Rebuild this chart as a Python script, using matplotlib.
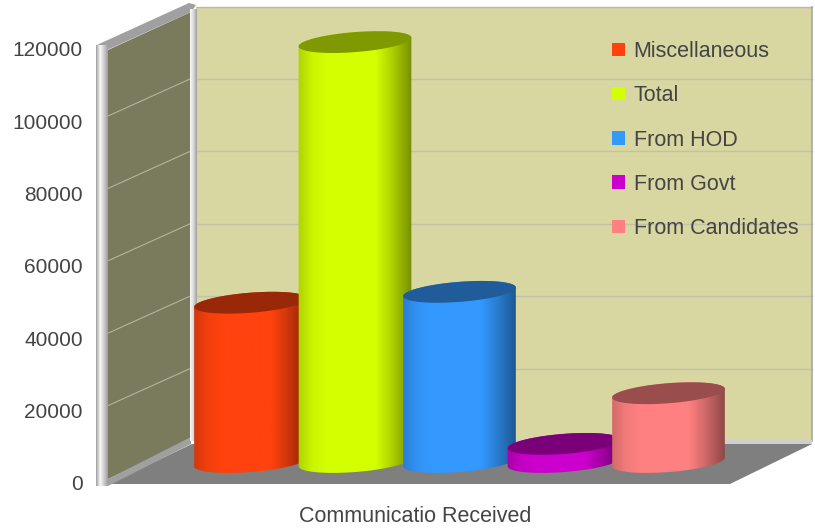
import numpy as np
import matplotlib
matplotlib.use("Agg")
import matplotlib.pyplot as plt
from matplotlib.patches import Polygon, Patch
from matplotlib.colors import to_rgb

plt.rcParams['font.family'] = ['Liberation Sans', 'DejaVu Sans']

categories = ["Miscellaneous", "Total", "From HOD", "From Govt", "From Candidates"]
values = [44000, 116000, 47000, 5000, 19000]
colors = ["#ff420e", "#d4ff00", "#3399ff", "#cc00cc", "#ff8080"]
y_ticks = [0, 20000, 40000, 60000, 80000, 100000, 120000]
x_title = "Communicatio Received"

W, H = 815, 528
# pixel scale of the plot
PX_CAT = 104.5       # px between two bars
X0 = 250.5           # px of first bar centre
Y0 = 483.0           # px of value 0 on the front edge
PX_VAL = 3.62 / 1000  # px per unit
LEFT = 90

BAR_BASE = (Y0 - 462) / PX_VAL    # bars stand mid way on the floor
BACK = (Y0 - 441) / PX_VAL        # back wall offset
SIDE = 37 / PX_VAL                # drop of a grid line along the side wall


def dx(px):
    return (px - X0) / PX_CAT


def dy(py):
    return (Y0 - py) / PX_VAL


def pts(xy):
    return [(dx(x), dy(y)) for x, y in xy]


def v_gradient(ax, x1, x2, y1, y2, stops, zorder):
    # horizontal gradient in a pixel box
    pos, col = zip(*stops)
    t = np.linspace(0, 1, 128)
    img = np.stack([np.interp(t, pos, [c[i] for c in col]) for i in range(3)], axis=-1)[None, :, :]
    return ax.imshow(img, extent=(dx(x1), dx(x2), dy(y2), dy(y1)), aspect='auto', zorder=zorder)


def cylinder(ax, i, value, color, zorder):
    a, b, tilt = 56.5, 10, np.radians(4.5)
    t = np.linspace(0, 2 * np.pi, 181)
    ex = a * np.cos(t) * np.cos(tilt) - b * np.sin(t) * np.sin(tilt)
    ey = a * np.cos(t) * np.sin(tilt) + b * np.sin(t) * np.cos(tilt)
    cx = i * PX_CAT
    top_y = (value + BAR_BASE) * PX_VAL
    low_y = BAR_BASE * PX_VAL
    # silhouette : lower half of the base, upper half of the top
    ang = t[np.argmax(ex)]
    t2 = np.linspace(ang, ang + np.pi, 91)
    hx = a * np.cos(t2) * np.cos(tilt) - b * np.sin(t2) * np.sin(tilt)
    hy = a * np.cos(t2) * np.sin(tilt) + b * np.sin(t2) * np.cos(tilt)
    # t2 runs over the upper half (y up), so the same half mirrored gives the bottom
    sx = np.concatenate([hx, -hx])
    sy = np.concatenate([hy + top_y, -hy + low_y])
    outline = np.column_stack([(cx + sx) / PX_CAT, sy / PX_VAL])

    rgb = np.array(to_rgb(color))
    stops = [(0, rgb * 0.82), (0.12, rgb * 0.95), (0.25, rgb), (0.68, rgb),
             (0.82, rgb * 0.82), (1, rgb * 0.55)]
    x1 = X0 + cx - a - 1
    x2 = X0 + cx + a + 1
    im = v_gradient(ax, x1, x2, Y0 - (top_y + 14), Y0 - (low_y - 14), stops, zorder)
    clip = Polygon(outline, transform=ax.transData, closed=True, fc='none', ec='none')
    ax.add_patch(clip)
    im.set_clip_path(clip)
    # lid
    lid = np.column_stack([(cx + ex) / PX_CAT, (top_y + ey) / PX_VAL])
    ax.add_patch(Polygon(lid, closed=True, fc=rgb * 0.6, ec='none', zorder=zorder + 0.1))


fig = plt.figure(figsize=(W / 100, H / 100), dpi=100)
ax = fig.add_axes([LEFT / W, 0, (W - LEFT) / W, 1])
ax.patch.set_alpha(0)
for s in ax.spines.values():
    s.set_visible(False)

# walls and floor
ax.add_patch(Polygon(pts([(196, 7), (812, 7), (812, 441), (196, 441)]), fc="#d8d7a1", ec='none', zorder=1))
ax.add_patch(Polygon(pts([(108, 50), (191, 12), (191, 440), (108, 479)]), fc="#7a7a5c", ec='none', zorder=1))
ax.add_patch(Polygon(pts([(108, 484), (730, 484), (812, 444), (192, 444)]), fc="#7f7f7f", ec='none', zorder=1))

# grid lines, back wall and side wall
for v in y_ticks[1:-1]:
    ax.plot([dx(197), dx(812)], [v + BACK, v + BACK], color="#c2c1aa", lw=1, zorder=2)
    ax.plot([dx(108), dx(190)], [v + BACK - SIDE, v + BACK], color="#b4b4a0", lw=0.8, zorder=2)
ax.plot([dx(197), dx(812)], [dy(7), dy(7)], color="#b8b8b8", lw=1, zorder=2)
ax.plot([dx(812), dx(812)], [dy(7), dy(441)], color="#a8a8a8", lw=1.2, zorder=2)
ax.add_patch(Polygon(pts([(197, 440), (812, 440), (812, 444), (197, 444)]), fc="#cfcfcf", ec='none', zorder=2))

# rails
ax.add_patch(Polygon(pts([(96, 46), (99, 44), (189, 3), (196, 5), (191, 12), (107, 50)]), fc="#a0a0a0", ec='none', zorder=3))
ax.add_patch(Polygon(pts([(108, 479), (191, 437), (191, 444), (108, 486)]), fc="#a0a0a0", ec='none', zorder=3))
grey, white = np.array([.62, .62, .62]), np.array([.98, .98, .98])
v_gradient(ax, 96, 108, 45, 486, [(0, grey), (0.35, white), (1, grey)], 4)
v_gradient(ax, 190, 197, 9, 441, [(0, white), (0.5, np.array([.85, .85, .85])), (1, grey)], 4)

for i in range(len(categories)):
    cylinder(ax, i, values[i], colors[i], 5 + i)

ax.set_xlim(dx(LEFT), dx(W))
ax.set_ylim(dy(H), dy(0))
ax.set_xticks([])
ax.set_yticks(y_ticks)
ax.set_yticklabels([str(v) for v in y_ticks])
ax.tick_params(axis='y', length=0, pad=5.2, labelsize=15, labelcolor="#444444")

ax.text(dx(415), dy(516), x_title, ha='center', va='center', fontsize=15.5, color="#444444")

handles = [Patch(fc=c, ec='none', label=n) for c, n in zip(colors, categories)]
leg = ax.legend(handles=handles, loc='upper left', bbox_to_anchor=(dx(612), dy(41)),
                bbox_transform=ax.transData, frameon=False, fontsize=15.5, labelcolor="#444444",
                handlelength=0.6, handleheight=0.6, handletextpad=0.4, labelspacing=1.08,
                borderpad=0, borderaxespad=0)
leg.set_zorder(20)

fig.savefig("out.png", dpi=100)
